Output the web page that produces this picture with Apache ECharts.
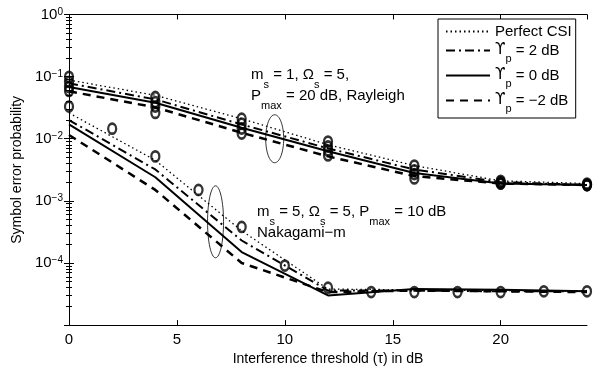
<!DOCTYPE html>
<html>
<head>
<meta charset="utf-8">
<script src="https://cdn.jsdelivr.net/npm/echarts@6/dist/echarts.min.js"></script>
<style>
html, body { margin: 0; padding: 0; background: #fff; }
#main { width: 603px; height: 371px; }
</style>
</head>
<body>
<div id="main"></div>
<script>
var FONT = 'Liberation Sans, Arial, Helvetica, sans-serif';

// thresholds (dB) where the analytical curves are computed
var xVals = [0, 4, 8, 12, 16, 20, 24];

// Rayleigh group (m_s = 1, Pmax = 20 dB)
var rayPerfect = [0.088, 0.050, 0.021, 0.0080, 0.0037, 0.0021, 0.0019];
var rayP2      = [0.078, 0.043, 0.017, 0.0070, 0.0032, 0.0020, 0.0018];
var rayP0      = [0.068, 0.038, 0.0150, 0.0063, 0.0028, 0.0019, 0.0018];
var rayM2      = [0.058, 0.032, 0.0125, 0.0052, 0.0025, 0.0019, 0.0018];

// Nakagami-m group (m_s = 5, Pmax = 10 dB)
var nakPerfect = [0.026, 0.0045, 3.3e-4, 3.8e-5, 3.7e-5, 3.6e-5, 3.6e-5];
var nakP2      = [0.020, 0.0032, 2.3e-4, 3.6e-5, 3.6e-5, 3.5e-5, 3.5e-5];
var nakP0      = [0.017, 0.0024, 1.5e-4, 3.0e-5, 3.8e-5, 3.7e-5, 3.5e-5];
var nakM2      = [0.0115, 0.0015, 1.0e-4, 3.4e-5, 3.6e-5, 3.5e-5, 3.4e-5];

// simulation circles
var raySimY = [
    [0.099, 0.082, 0.068, 0.059],
    [0.047, 0.039, 0.033, 0.026],
    [0.021, 0.0175, 0.0146, 0.0121],
    [0.0090, 0.0075, 0.0065, 0.0054],
    [0.0037, 0.0031, 0.0027, 0.0023],
    [0.0021, 0.0020, 0.0019, 0.0019],
    [0.0019, 0.0018, 0.0018, 0.0018]
];
var nakSimX = [0, 2, 4, 6, 8, 10, 12, 14, 16, 18, 20, 22, 24];
var nakSimY = [0.033, 0.0145, 0.0052, 0.0015, 3.8e-4, 9.1e-5, 4.0e-5, 3.4e-5, 3.4e-5, 3.4e-5, 3.4e-5, 3.5e-5, 3.5e-5];

var legendNames = ['Perfect CSI', 'ϒp = 2 dB', 'ϒp = 0 dB', 'ϒp = −2 dB'];

var lineStyles = [
    { color: '#000', width: 1.3, type: [1.5, 3] },
    { color: '#000', width: 2, type: [9, 4, 2, 4] },
    { color: '#000', width: 2, type: 'solid' },
    { color: '#000', width: 2.5, type: [8, 6] }
];

function pairs(xs, ys) {
    var out = [];
    for (var i = 0; i < xs.length; i++) out.push([xs[i], ys[i]]);
    return out;
}

var rayCurves = [rayPerfect, rayP2, rayP0, rayM2];
var nakCurves = [nakPerfect, nakP2, nakP0, nakM2];

var series = [];
for (var k = 0; k < 4; k++) {
    series.push({
        name: legendNames[k], type: 'line', data: pairs(xVals, rayCurves[k]),
        showSymbol: false, symbol: 'none', lineStyle: lineStyles[k],
        itemStyle: { color: '#000' }, z: 3, animation: false
    });
    series.push({
        name: legendNames[k], type: 'line', data: pairs(xVals, nakCurves[k]),
        showSymbol: false, symbol: 'none', lineStyle: lineStyles[k],
        itemStyle: { color: '#000' }, z: 3, animation: false
    });
}

var simData = [];
for (var i = 0; i < xVals.length; i++) {
    for (var j = 0; j < raySimY[i].length; j++) simData.push([xVals[i], raySimY[i][j]]);
}
simData = simData.concat(pairs(nakSimX, nakSimY));

series.push({
    name: 'Simulation', type: 'scatter', data: simData,
    symbol: 'circle', symbolSize: [8, 10], z: 4, animation: false,
    itemStyle: { color: 'rgba(0,0,0,0)', borderColor: '#000', borderWidth: 2.5 }
});

var supRich = {
    b: { fontFamily: FONT, fontSize: 15, color: '#000', lineHeight: 15, padding: [7, 0, 0, 0], verticalAlign: 'bottom' },
    s: { fontFamily: FONT, fontSize: 10, color: '#000', lineHeight: 10, verticalAlign: 'top' }
};

var legRich = {
    n: { fontFamily: FONT, fontSize: 15, color: '#000', lineHeight: 15, verticalAlign: 'top' },
    u: { fontFamily: 'DejaVu Sans', fontSize: 15, color: '#000', lineHeight: 15, verticalAlign: 'top' },
    s: { fontFamily: FONT, fontSize: 11, color: '#000', lineHeight: 10, padding: [10, 0, 0, 0], verticalAlign: 'top' }
};

var annRich = {
    n: { fontFamily: FONT, fontSize: 15, color: '#000', lineHeight: 16, verticalAlign: 'top' },
    s: { fontFamily: FONT, fontSize: 11, color: '#000', lineHeight: 10, padding: [12, 0, 0, 0], verticalAlign: 'top' }
};

var myChart = echarts.init(document.getElementById('main'));

var option = {
    backgroundColor: '#fff',
    animation: false,
    textStyle: { fontFamily: FONT, color: '#000' },
    grid: { left: 69, right: 16, top: 14, bottom: 44 },
    legend: {
        data: legendNames,
        orient: 'vertical',
        left: 438, top: 19,
        padding: [5, 4, 4, 7],
        itemWidth: 44, itemHeight: 12, itemGap: 4,
        backgroundColor: '#fff',
        borderColor: '#000', borderWidth: 1,
        itemStyle: { opacity: 0 },
        textStyle: { fontFamily: FONT, fontSize: 15, color: '#000', rich: legRich },
        formatter: function (name) {
            if (name.indexOf('ϒp') === 0) {
                return '{u|ϒ}{s|p}{n|' + name.slice(2) + '}';
            }
            return '{n|' + name + '}';
        }
    },
    xAxis: [{
        type: 'value', min: 0, max: 24, interval: 5,
        name: 'Interference threshold (τ) in dB',
        nameLocation: 'middle', nameGap: 22,
        nameTextStyle: { fontFamily: FONT, fontSize: 14, color: '#000' },
        axisLine: { lineStyle: { color: '#000', width: 1 } },
        axisTick: { inside: true, length: 5, lineStyle: { color: '#000' } },
        axisLabel: { fontFamily: FONT, fontSize: 15, color: '#000', margin: 7, showMaxLabel: false },
        splitLine: { show: false }
    }, {
        type: 'value', min: 0, max: 24, interval: 5, position: 'top',
        axisLine: { lineStyle: { color: '#000', width: 1 } },
        axisTick: { inside: true, length: 5, lineStyle: { color: '#000' } },
        axisLabel: { show: false },
        splitLine: { show: false }
    }],
    yAxis: [{
        type: 'log', logBase: 10, min: 1e-5, max: 1,
        name: 'Symbol error probability',
        nameLocation: 'middle', nameGap: 40,
        nameTextStyle: { fontFamily: FONT, fontSize: 14, color: '#000' },
        axisLine: { lineStyle: { color: '#000', width: 1 } },
        axisTick: { inside: true, length: 5, lineStyle: { color: '#000' } },
        minorTick: { show: true, splitNumber: 9, length: 3, lineStyle: { color: '#000' } },
        axisLabel: {
            margin: 6, rich: supRich, showMinLabel: false,
            formatter: function (v) {
                var e = Math.round(Math.log10(v));
                if (Math.abs(Math.log10(v) - e) > 1e-6) return '';
                if (e <= -5) return '';
                return '{b|10}{s|' + (e < 0 ? '−' + (-e) : e) + '}';
            }
        },
        splitLine: { show: false }
    }, {
        type: 'log', logBase: 10, min: 1e-5, max: 1, position: 'right',
        axisLine: { lineStyle: { color: '#000', width: 1 } },
        axisTick: { inside: true, length: 5, lineStyle: { color: '#000' } },
        minorTick: { show: true, splitNumber: 9, length: 3, lineStyle: { color: '#000' } },
        axisLabel: { show: false },
        splitLine: { show: false }
    }],
    series: series
};

myChart.setOption(option);

// annotations: ellipses around each curve group, plus the parameter labels
var e1 = myChart.convertToPixel({ gridIndex: 0 }, [9.53, 0.01]);
var e2 = myChart.convertToPixel({ gridIndex: 0 }, [6.79, 4.6e-4]);

myChart.setOption({
    graphic: [
        { type: 'ellipse', shape: { cx: e1[0], cy: e1[1], rx: 9, ry: 24 }, style: { fill: 'none', stroke: '#000', lineWidth: 0.8 }, z: 10 },
        { type: 'ellipse', shape: { cx: e2[0], cy: e2[1], rx: 8, ry: 36 }, style: { fill: 'none', stroke: '#000', lineWidth: 0.8 }, z: 10 },
        { type: 'text', x: 251, y: 67, z: 10, style: { text: '{n|m}{s|s}{n| = 1, Ω}{s|s}{n| = 5,}', rich: annRich, verticalAlign: 'top' } },
        { type: 'text', x: 251, y: 88, z: 10, style: { text: '{n|P}{s|max}{n| = 20 dB, Rayleigh}', rich: annRich, verticalAlign: 'top' } },
        { type: 'text', x: 257, y: 204, z: 10, style: { text: '{n|m}{s|s}{n| = 5, Ω}{s|s}{n| = 5, P}{s|max}{n| = 10 dB}', rich: annRich, verticalAlign: 'top' } },
        { type: 'text', x: 257, y: 225, z: 10, style: { text: '{n|Nakagami−m}', rich: annRich, verticalAlign: 'top' } }
    ]
});
</script>
</body>
</html>
